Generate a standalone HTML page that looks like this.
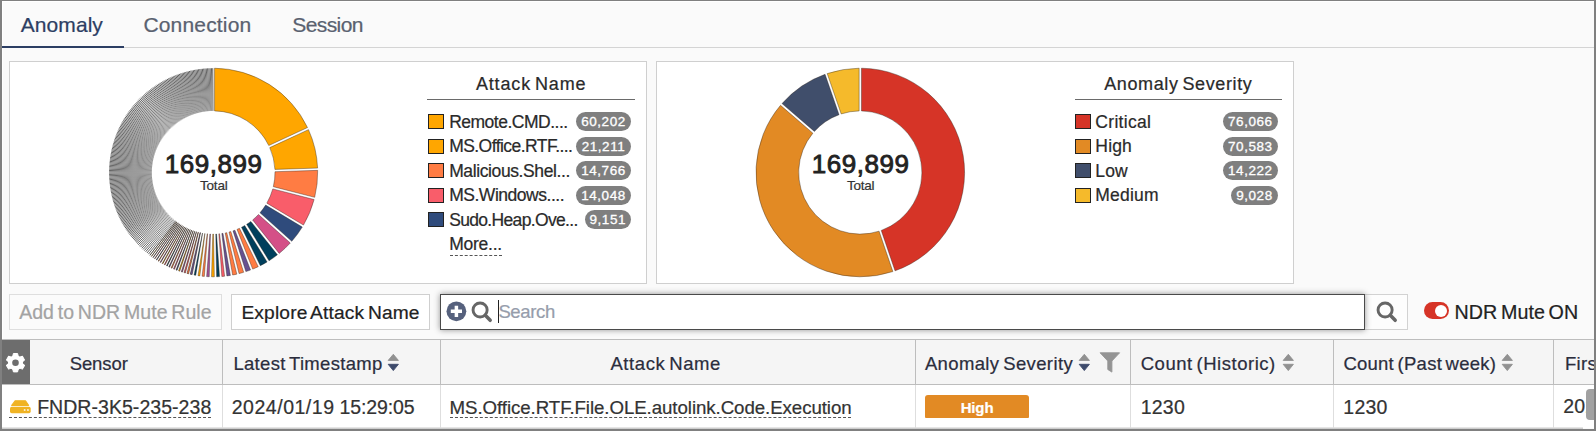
<!DOCTYPE html>
<html lang="en">
<head>
<meta charset="utf-8">
<title>Anomaly</title>
<style>
*{box-sizing:border-box}
html,body{margin:0;padding:0}
body{width:1596px;height:431px;overflow:hidden;background:#fafafa;position:relative;font-family:"Liberation Sans",sans-serif}
.abs,.tx{position:absolute}
.tx{white-space:pre;line-height:1;font-family:"Liberation Sans",sans-serif;-webkit-text-stroke:.22px}
#frame{position:absolute;left:0;top:0;width:1596px;height:431px;border-style:solid;border-color:#808080;border-width:1px 2px 2px 2px;pointer-events:none;z-index:50}
.panel{position:absolute;top:61px;height:223px;background:#fff;border:1px solid #cfcfcf}
.hr{position:absolute;height:1px;background:#6a6a6a}
.sw{position:absolute;width:16px;height:15px;border:1px solid #222}
.badge{position:absolute;height:19px;border-radius:10px;background:#7f7f7f;color:#fff;text-align:center;font-size:13.5px;line-height:19px;white-space:pre;-webkit-text-stroke:.3px}
.btn{position:absolute;top:294px;height:36px;border:1px solid #d6d6d6;background:#fff}
.vl{position:absolute;width:1px}
.sb{-webkit-text-stroke:.85px #222}
.dash{position:absolute;height:0;border-top:1px dashed #555}
</style>
</head>
<body>
<div class="abs" style="left:2px;top:1px;width:1592px;height:1px;background:#fff"></div>
<div class="abs" style="left:2px;top:1px;width:1px;height:428px;background:#fff"></div>
<nav>
<div class="abs" style="left:2px;top:47px;width:1592px;height:1px;background:#d4d4d4"></div>
<div class="abs" style="left:2px;top:46px;width:122px;height:2px;background:#2c3e63"></div>
<span class="tx " style="left:20.74px;top:14.00px;font-size:21px;font-weight:400;color:#2c3e63;letter-spacing:0.071px">Anomaly</span>
<span class="tx " style="left:143.44px;top:14.00px;font-size:21px;font-weight:400;color:#59616f;letter-spacing:0.165px">Connection</span>
<span class="tx " style="left:292.24px;top:14.00px;font-size:21px;font-weight:400;color:#59616f;letter-spacing:-0.588px">Session</span>
</nav>
<section>
<div class="panel" style="left:9px;width:638px"></div>
<svg class="abs" style="left:0;top:0" width="660" height="300" viewBox="0 0 660 300">
<path d="M214.55 68.21A104.30 104.30 0 0 1 307.51 127.55L268.78 145.53A61.60 61.60 0 0 0 214.55 110.91Z" fill="#ffa600" stroke="rgba(40,30,20,.55)" stroke-width=".7"/>
<path d="M308.48 129.63A104.30 104.30 0 0 1 317.61 168.07L274.92 169.42A61.60 61.60 0 0 0 269.75 147.61Z" fill="#ffa600" stroke="rgba(40,30,20,.55)" stroke-width=".7"/>
<path d="M317.68 170.37A104.30 104.30 0 0 1 314.70 197.32L273.34 186.70A61.60 61.60 0 0 0 274.99 171.71Z" fill="#ff7c43" stroke="rgba(40,30,20,.55)" stroke-width=".7"/>
<path d="M314.13 199.55A104.30 104.30 0 0 1 303.48 225.07L266.84 203.14A61.60 61.60 0 0 0 272.77 188.93Z" fill="#f95d6a" stroke="rgba(40,30,20,.55)" stroke-width=".7"/>
<path d="M302.30 227.05A104.30 104.30 0 0 1 291.79 241.29L260.01 212.78A61.60 61.60 0 0 0 265.66 205.12Z" fill="#2f4b7c" stroke="rgba(40,30,20,.55)" stroke-width=".7"/>
<path d="M290.26 243.01A104.30 104.30 0 0 1 279.22 253.41L252.64 219.98A61.60 61.60 0 0 0 258.47 214.49Z" fill="#d45087" stroke="rgba(40,30,20,.55)" stroke-width=".7"/>
<path d="M277.42 254.84A104.30 104.30 0 0 1 269.03 260.73L246.65 224.35A61.60 61.60 0 0 0 250.84 221.42Z" fill="#003f5c" stroke="rgba(40,30,20,.55)" stroke-width=".7"/>
<path d="M267.07 261.93A104.30 104.30 0 0 1 260.32 265.65L241.53 227.30A61.60 61.60 0 0 0 244.69 225.56Z" fill="#003f5c" stroke="rgba(40,30,20,.55)" stroke-width=".7"/>
<path d="M258.25 266.66A104.30 104.30 0 0 1 252.69 269.12L237.04 229.38A61.60 61.60 0 0 0 239.46 228.31Z" fill="#ff7c43" stroke="rgba(40,30,20,.55)" stroke-width=".7"/>
<path d="M250.55 269.96A104.30 104.30 0 0 1 245.86 271.62L233.02 230.89A61.60 61.60 0 0 0 234.90 230.23Z" fill="#665191" stroke="rgba(40,30,20,.55)" stroke-width=".7"/>
<path d="M243.66 272.31A104.30 104.30 0 0 1 239.04 273.60L229.00 232.09A61.60 61.60 0 0 0 230.82 231.58Z" fill="#ff7c43" stroke="rgba(40,30,20,.55)" stroke-width=".7"/>
<path d="M236.81 274.14A104.30 104.30 0 0 1 232.64 275.01L225.23 232.95A61.60 61.60 0 0 0 226.76 232.63Z" fill="#ff7c43" stroke="rgba(40,30,20,.55)" stroke-width=".7"/>
<path d="M230.38 275.41A104.30 104.30 0 0 1 226.89 275.92L221.83 233.52A61.60 61.60 0 0 0 222.96 233.35Z" fill="#665191" stroke="rgba(40,30,20,.55)" stroke-width=".7"/>
<path d="M224.61 276.20A104.30 104.30 0 0 1 221.82 276.46L218.84 233.86A61.60 61.60 0 0 0 219.55 233.79Z" fill="#f95d6a" stroke="rgba(40,30,20,.55)" stroke-width=".7"/>
<path d="M219.53 276.62A104.30 104.30 0 0 1 216.64 276.75L215.79 234.05A61.60 61.60 0 0 0 216.55 234.02Z" fill="#003f5c" stroke="rgba(40,30,20,.55)" stroke-width=".7"/>
<path d="M214.34 276.80A104.30 104.30 0 0 1 211.55 276.78L212.78 234.10A61.60 61.60 0 0 0 213.49 234.10Z" fill="#ffa600" stroke="rgba(40,30,20,.55)" stroke-width=".7"/>
<path d="M209.25 276.72A104.30 104.30 0 0 1 206.64 276.58L209.88 234.00A61.60 61.60 0 0 0 210.48 234.03Z" fill="#a05195" stroke="rgba(40,30,20,.55)" stroke-width=".7"/>
<path d="M204.34 276.41A104.30 104.30 0 0 1 202.10 276.19L207.20 233.79A61.60 61.60 0 0 0 207.58 233.82Z" fill="#ff7c43" stroke="rgba(40,30,20,.55)" stroke-width=".7"/>
<path d="M199.82 275.91A104.30 104.30 0 0 1 198.04 275.66L204.79 233.50A61.60 61.60 0 0 0 204.91 233.51Z" fill="#ffa600" stroke="rgba(40,30,20,.55)" stroke-width=".7"/>
<path d="M195.77 275.30A104.30 104.30 0 0 1 194.09 275.00L202.46 233.12A61.60 61.60 0 0 0 202.52 233.13Z" fill="#003f5c" stroke="rgba(40,30,20,.55)" stroke-width=".7"/>
<path d="M192.11 274.60A104.30 104.30 0 0 1 190.26 274.20L200.08 232.64A61.60 61.60 0 0 0 200.47 232.73Z" fill="#665191" stroke="rgba(40,30,20,.7)" stroke-width=".75"/>
<path d="M188.56 273.80A104.30 104.30 0 0 1 187.02 273.41L198.17 232.19A61.60 61.60 0 0 0 198.38 232.24Z" fill="#ff7c43" stroke="rgba(40,30,20,.7)" stroke-width=".75"/>
<path d="M185.33 272.95A104.30 104.30 0 0 1 184.09 272.60L196.43 231.72A61.60 61.60 0 0 0 196.48 231.73Z" fill="#f95d6a" stroke="rgba(40,30,20,.7)" stroke-width=".75"/>
<path d="M182.41 272.09A104.30 104.30 0 0 1 181.33 271.75L194.78 231.22A61.60 61.60 0 0 0 194.78 231.22Z" fill="#a05195" stroke="rgba(40,30,20,.7)" stroke-width=".75"/>
<path d="M179.67 271.20A104.30 104.30 0 0 1 178.67 270.85L193.18 230.69A61.60 61.60 0 0 0 193.18 230.69Z" fill="#ffa600" stroke="rgba(40,30,20,.7)" stroke-width=".75"/>
<path d="M177.02 270.25A104.30 104.30 0 0 1 176.08 269.90L191.64 230.13A61.60 61.60 0 0 0 191.64 230.13Z" fill="#2f4b7c" stroke="rgba(40,30,20,.7)" stroke-width=".75"/>
<path d="M174.45 269.26A104.30 104.30 0 0 1 173.58 268.90L190.14 229.54A61.60 61.60 0 0 0 190.14 229.54Z" fill="#d45087" stroke="rgba(40,30,20,.7)" stroke-width=".75"/>
<path d="M171.97 268.22A104.30 104.30 0 0 1 171.16 267.86L188.69 228.93A61.60 61.60 0 0 0 188.69 228.93Z" fill="#ff7c43" stroke="rgba(40,30,20,.7)" stroke-width=".75"/>
<path d="M169.57 267.14A104.30 104.30 0 0 1 168.82 266.79L187.29 228.29A61.60 61.60 0 0 0 187.29 228.29Z" fill="#665191" stroke="rgba(40,30,20,.7)" stroke-width=".75"/>
<path d="M167.24 266.03A104.30 104.30 0 0 1 166.56 265.69L185.94 227.64A61.60 61.60 0 0 0 185.94 227.64Z" fill="#003f5c" stroke="rgba(40,30,20,.7)" stroke-width=".75"/>
<path d="M165.00 264.89A104.30 104.30 0 0 1 164.37 264.56L184.63 226.97A61.60 61.60 0 0 0 184.63 226.97Z" fill="#f95d6a" stroke="rgba(40,30,20,.7)" stroke-width=".75"/>
<path d="M162.83 263.72A104.30 104.30 0 0 1 162.25 263.40L183.36 226.28A61.60 61.60 0 0 0 183.36 226.28Z" fill="#ffa600" stroke="rgba(40,30,20,.7)" stroke-width=".75"/>
<path d="M160.74 262.53A104.30 104.30 0 0 1 160.21 262.22L182.14 225.58A61.60 61.60 0 0 0 182.14 225.58Z" fill="#a05195" stroke="rgba(40,30,20,.7)" stroke-width=".75"/>
<path d="M158.71 261.31A104.30 104.30 0 0 1 158.24 261.02L180.96 224.87A61.60 61.60 0 0 0 180.96 224.87Z" fill="#ff7c43" stroke="rgba(40,30,20,.7)" stroke-width=".75"/>
<path d="M156.76 260.08A104.30 104.30 0 0 1 156.35 259.82L179.83 224.15A61.60 61.60 0 0 0 179.83 224.15Z" fill="#2f4b7c" stroke="rgba(40,30,20,.7)" stroke-width=".75"/>
<path d="M154.89 258.85A104.30 104.30 0 0 1 154.58 258.63L178.75 223.43A61.60 61.60 0 0 0 178.75 223.43Z" fill="#d45087" stroke="rgba(40,30,20,.7)" stroke-width=".75"/>
<path d="M153.15 257.64A104.30 104.30 0 0 1 152.93 257.48L177.75 222.74A61.60 61.60 0 0 0 177.75 222.74Z" fill="#665191" stroke="rgba(40,30,20,.7)" stroke-width=".75"/>
<path d="M151.51 256.45A104.30 104.30 0 0 1 151.37 256.35L176.81 222.05A61.60 61.60 0 0 0 176.81 222.05Z" fill="#ffa600" stroke="rgba(40,30,20,.7)" stroke-width=".75"/>
<path d="M149.98 255.30A104.30 104.30 0 0 1 149.87 255.22L175.91 221.38A61.60 61.60 0 0 0 175.91 221.38Z" fill="#003f5c" stroke="rgba(40,30,20,.7)" stroke-width=".75"/>
<path d="M148.45 254.11L175.04 220.70M147.03 252.95L174.20 220.02M145.64 251.79L173.38 219.33M144.30 250.63L172.59 218.64M143.00 249.46L171.82 217.95M141.75 248.29L171.08 217.26M140.53 247.12L170.36 216.57M139.35 245.95L169.66 215.88M138.21 244.78L168.99 215.19M137.10 243.61L168.34 214.50M136.03 242.45L167.71 213.81M135.00 241.29L167.10 213.13M134.00 240.13L166.51 212.44M133.03 238.98L165.93 211.76M132.10 237.83L165.38 211.09M131.20 236.69L164.85 210.41M130.32 235.56L164.33 209.74M129.48 234.43L163.84 209.08M128.67 233.32L163.36 208.42M127.88 232.21L162.89 207.76M127.12 231.10L162.44 207.11M126.39 230.01L162.01 206.46M125.67 228.91L161.59 205.82M124.97 227.80L161.17 205.16M124.28 226.69L160.77 204.50M123.61 225.56L160.37 203.84M122.95 224.43L159.98 203.17M122.30 223.29L159.60 202.50M121.67 222.14L159.22 201.82M121.05 220.98L158.86 201.13M120.45 219.82L158.50 200.45M119.86 218.65L158.16 199.76M119.29 217.47L157.82 199.06M118.73 216.28L157.49 198.36M118.19 215.09L157.17 197.65M117.66 213.89L156.86 196.95M117.15 212.68L156.56 196.23M116.65 211.47L156.26 195.52M116.17 210.25L155.98 194.80M115.71 209.03L155.70 194.07M115.25 207.80L155.43 193.35M114.82 206.56L155.18 192.62M114.40 205.32L154.93 191.88M113.99 204.07L154.69 191.15M113.60 202.82L154.46 190.41M113.23 201.56L154.24 189.67M112.87 200.30L154.03 188.92M112.53 199.04L153.83 188.17M112.21 197.77L153.64 187.42M111.90 196.50L153.45 186.67M111.60 195.22L153.28 185.92M111.33 193.94L153.12 185.16M111.07 192.65L152.96 184.40M110.82 191.36L152.82 183.64M110.59 190.07L152.68 182.88M110.38 188.78L152.56 182.12M110.18 187.49L152.44 181.35M110.00 186.19L152.33 180.58M109.84 184.89L152.24 179.82M109.69 183.58L152.15 179.05M109.56 182.28L152.07 178.28M109.44 180.97L152.00 177.51M109.35 179.67L151.95 176.73M109.26 178.36L151.90 175.96M109.20 177.05L151.86 175.19M109.15 175.74L151.83 174.41M109.12 174.43L151.81 173.64M109.10 173.12L151.80 172.87M109.10 171.81L151.80 172.09M109.12 170.50L151.81 171.32M109.15 169.19L151.83 170.54M109.20 167.88L151.86 169.77M109.27 166.57L151.90 169.00M109.35 165.26L151.95 168.23M109.45 163.95L152.01 167.45M109.57 162.65L152.08 166.68M109.70 161.35L152.15 165.91M109.85 160.04L152.24 165.14M110.01 158.74L152.34 164.37M110.19 157.44L152.45 163.61M110.39 156.15L152.56 162.84M110.60 154.86L152.69 162.08M110.83 153.57L152.82 161.32M111.08 152.28L152.97 160.56M111.34 150.99L153.12 159.80M111.62 149.71L153.29 159.04M111.91 148.44L153.46 158.29M112.22 147.16L153.65 157.54M112.55 145.89L153.84 156.79M112.89 144.63L154.04 156.04M113.25 143.37L154.25 155.29M113.63 142.11L154.47 154.55M114.01 140.86L154.70 153.81M114.42 139.61L154.94 153.08M114.84 138.37L155.19 152.34M115.28 137.14L155.45 151.61M115.73 135.91L155.72 150.89M116.20 134.68L155.99 150.16M116.68 133.46L156.28 149.44M117.18 132.25L156.57 148.73M117.69 131.04L156.87 148.02M118.22 129.85L157.19 147.31M118.76 128.65L157.51 146.60M119.32 127.47L157.84 145.90M119.90 126.29L158.18 145.21M120.48 125.12L158.52 144.52M121.09 123.95L158.88 143.83M121.70 122.80L159.24 143.15M122.34 121.65L159.62 142.47M122.98 120.51L160.00 141.79M123.64 119.38L160.39 141.13M124.32 118.25L160.79 140.46M125.01 117.14L161.19 139.80M125.71 116.03L161.61 139.15M126.43 114.93L162.03 138.50M127.16 113.85L162.46 137.86M127.90 112.77L162.90 137.22M128.66 111.70L163.35 136.59M129.43 110.64L163.81 135.96M130.21 109.59L164.27 135.34M131.01 108.55L164.74 134.73M131.82 107.52L165.22 134.12M132.64 106.50L165.70 133.52M133.48 105.49L166.20 132.92M134.33 104.49L166.70 132.33M135.19 103.50L167.21 131.75M136.06 102.52L167.72 131.17M136.95 101.55L168.25 130.60M137.84 100.60L168.78 130.04M138.75 99.66L169.31 129.48M139.67 98.72L169.86 128.93M140.61 97.80L170.41 128.38M141.55 96.89L170.97 127.85M142.51 96.00L171.53 127.32M143.47 95.11L172.10 126.79M144.45 94.24L172.68 126.28M145.44 93.38L173.26 125.77M146.44 92.53L173.85 125.27M147.45 91.70L174.45 124.78M148.47 90.87L175.05 124.29M149.50 90.07L175.66 123.81M150.54 89.27L176.28 123.34M151.59 88.49L176.90 122.88M152.65 87.72L177.52 122.43M153.72 86.96L178.16 121.98M154.80 86.22L178.79 121.54M155.89 85.49L179.44 121.11M156.99 84.77L180.08 120.69M158.10 84.07L180.74 120.27M159.21 83.38L181.40 119.87M160.34 82.71L182.06 119.47M161.47 82.05L182.73 119.08M162.61 81.40L183.40 118.70M163.76 80.77L184.08 118.32M164.92 80.15L184.77 117.96M166.08 79.55L185.45 117.60M167.25 78.96L186.14 117.26M168.43 78.39L186.84 116.92M169.62 77.83L187.54 116.59M170.81 77.29L188.25 116.27M172.01 76.76L188.95 115.96M173.22 76.25L189.67 115.66M174.43 75.75L190.38 115.36M175.65 75.27L191.10 115.08M176.87 74.81L191.83 114.80M178.10 74.35L192.55 114.53M179.34 73.92L193.28 114.28M180.58 73.50L194.02 114.03M181.83 73.09L194.75 113.79M183.08 72.70L195.49 113.56M184.34 72.33L196.23 113.34M185.60 71.97L196.98 113.13M186.86 71.63L197.73 112.93M188.13 71.31L198.48 112.74M189.40 71.00L199.23 112.55M190.68 70.70L199.98 112.38M191.96 70.43L200.74 112.22M193.25 70.17L201.50 112.06M194.54 69.92L202.26 111.92M195.83 69.69L203.02 111.78M197.12 69.48L203.78 111.66M198.41 69.28L204.55 111.54M199.71 69.10L205.32 111.43M201.01 68.94L206.08 111.34M202.32 68.79L206.85 111.25M203.62 68.66L207.62 111.17M204.93 68.54L208.39 111.10M206.23 68.45L209.17 111.05M207.54 68.36L209.94 111.00M208.85 68.30L210.71 110.96M210.16 68.25L211.49 110.93M211.47 68.22L212.26 110.91M212.76 68.20L213.02 110.90" fill="none" stroke="#222" stroke-width="0.73"/>
<defs><radialGradient id="fade" gradientUnits="userSpaceOnUse" cx="213.4" cy="172.5" r="104.3"><stop offset="0.591" stop-color="#fff" stop-opacity="0.409"/><stop offset="1" stop-color="#fff" stop-opacity="0"/></radialGradient></defs>
<path d="M148.66 254.91A104.8 104.8 0 0 1 213.38 67.70L213.39 111.40A61.1 61.1 0 0 0 175.65 220.55Z" fill="url(#fade)"/>
</svg>
<span class="tx sb" style="left:164.84px;top:151.00px;font-size:26px;font-weight:400;color:#222;letter-spacing:0.545px">169,899</span>
<span class="tx " style="left:199.99px;top:179.00px;font-size:13.5px;font-weight:400;color:#333;letter-spacing:-0.196px">Total</span>
<span class="tx " style="left:475.92px;top:75.00px;font-size:18px;font-weight:400;color:#2a2a2a;letter-spacing:0.841px;word-spacing:-1.8px">Attack Name</span>
<div class="hr" style="left:427px;top:99px;width:208px"></div>
<div class="sw" style="left:428px;top:114.4px;background:#ffa600"></div>
<span class="tx " style="left:449.15px;top:114.00px;font-size:17.5px;font-weight:400;color:#2a2a2a;letter-spacing:-0.493px">Remote.CMD....</span>
<div class="badge" style="left:576.0px;top:112.0px;width:55.0px;letter-spacing:.55px">60,202</div>
<div class="sw" style="left:428px;top:138.9px;background:#ffa600"></div>
<span class="tx " style="left:449.15px;top:138.00px;font-size:17.5px;font-weight:400;color:#2a2a2a;letter-spacing:-0.549px">MS.Office.RTF....</span>
<div class="badge" style="left:576.0px;top:136.5px;width:55.0px;letter-spacing:.55px">21,211</div>
<div class="sw" style="left:428px;top:163.4px;background:#ff7c43"></div>
<span class="tx " style="left:449.15px;top:163.00px;font-size:17.5px;font-weight:400;color:#2a2a2a;letter-spacing:-0.387px">Malicious.Shel...</span>
<div class="badge" style="left:576.0px;top:161.0px;width:55.0px;letter-spacing:.55px">14,766</div>
<div class="sw" style="left:428px;top:187.9px;background:#f95d6a"></div>
<span class="tx " style="left:449.15px;top:187.00px;font-size:17.5px;font-weight:400;color:#2a2a2a;letter-spacing:-0.472px">MS.Windows....</span>
<div class="badge" style="left:576.0px;top:185.5px;width:55.0px;letter-spacing:.55px">14,048</div>
<div class="sw" style="left:428px;top:212.4px;background:#2f4b7c"></div>
<span class="tx " style="left:449.15px;top:212.00px;font-size:17.5px;font-weight:400;color:#2a2a2a;letter-spacing:-0.661px">Sudo.Heap.Ove...</span>
<div class="badge" style="left:584.6px;top:210.0px;width:46.4px;letter-spacing:.55px">9,151</div>
<span class="tx " style="left:449.15px;top:236.00px;font-size:17.5px;font-weight:400;color:#2a2a2a;letter-spacing:-0.246px">More...</span>
<div class="dash" style="left:450px;top:255px;width:52px"></div>
</section>
<section>
<div class="panel" style="left:656px;width:638px"></div>
<svg class="abs" style="left:0;top:0" width="1300" height="300" viewBox="0 0 1300 300">
<path d="M861.45 68.21A104.30 104.30 0 0 1 895.04 270.84L881.26 230.42A61.60 61.60 0 0 0 861.45 110.91Z" fill="#d63427" stroke="rgba(40,30,20,.55)" stroke-width=".7"/>
<path d="M892.86 271.59A104.30 104.30 0 0 1 780.52 105.31L812.88 133.18A61.60 61.60 0 0 0 879.08 231.17Z" fill="#e28a24" stroke="rgba(40,30,20,.55)" stroke-width=".7"/>
<path d="M782.02 103.57A104.30 104.30 0 0 1 825.04 74.34L839.03 114.69A61.60 61.60 0 0 0 814.38 131.44Z" fill="#404e6b" stroke="rgba(40,30,20,.55)" stroke-width=".7"/>
<path d="M827.21 73.59A104.30 104.30 0 0 1 859.15 68.21L859.15 110.91A61.60 61.60 0 0 0 841.20 113.93Z" fill="#f5ba2b" stroke="rgba(40,30,20,.55)" stroke-width=".7"/>
</svg>
<span class="tx sb" style="left:811.74px;top:151.00px;font-size:26px;font-weight:400;color:#222;letter-spacing:0.545px">169,899</span>
<span class="tx " style="left:846.89px;top:179.00px;font-size:13.5px;font-weight:400;color:#333;letter-spacing:-0.196px">Total</span>
<span class="tx " style="left:1104.22px;top:75.00px;font-size:18px;font-weight:400;color:#2a2a2a;letter-spacing:0.621px;word-spacing:-1.8px">Anomaly Severity</span>
<div class="hr" style="left:1075px;top:99px;width:207px"></div>
<div class="sw" style="left:1075px;top:114.4px;background:#d63427"></div>
<span class="tx " style="left:1095.35px;top:114.00px;font-size:17.5px;font-weight:400;color:#2a2a2a;letter-spacing:0.308px">Critical</span>
<div class="badge" style="left:1222.7px;top:112.0px;width:55.3px;letter-spacing:.55px">76,066</div>
<div class="sw" style="left:1075px;top:138.9px;background:#e28a24"></div>
<span class="tx " style="left:1095.35px;top:138.00px;font-size:17.5px;font-weight:400;color:#2a2a2a;letter-spacing:0.162px">High</span>
<div class="badge" style="left:1222.7px;top:136.5px;width:55.3px;letter-spacing:.55px">70,583</div>
<div class="sw" style="left:1075px;top:163.4px;background:#404e6b"></div>
<span class="tx " style="left:1095.35px;top:163.00px;font-size:17.5px;font-weight:400;color:#2a2a2a;letter-spacing:0.147px">Low</span>
<div class="badge" style="left:1222.7px;top:161.0px;width:55.3px;letter-spacing:.55px">14,222</div>
<div class="sw" style="left:1075px;top:187.9px;background:#f5ba2b"></div>
<span class="tx " style="left:1095.35px;top:187.00px;font-size:17.5px;font-weight:400;color:#2a2a2a;letter-spacing:0.183px">Medium</span>
<div class="badge" style="left:1230.9px;top:185.5px;width:47.1px;letter-spacing:.55px">9,028</div>
</section>
<div role="toolbar">
<div class="btn" style="left:9px;width:213px;background:#fbfbfb;border-color:#dedede"></div>
<span class="tx " style="left:19.13px;top:303.00px;font-size:19.5px;font-weight:400;color:#a3a3a3;letter-spacing:0.070px;word-spacing:-1.8px">Add to NDR Mute Rule</span>
<div class="btn" style="left:231px;width:199px;border-color:#cfcfcf"></div>
<span class="tx " style="left:241.45px;top:303.00px;font-size:19.2px;font-weight:400;color:#222;letter-spacing:0.139px;word-spacing:-1.8px">Explore Attack Name</span>
<div class="btn" style="left:1364px;width:44px;border-color:#d2d2d2;background:#fdfdfd"></div>
<div class="btn" style="left:440px;width:925px;border:1.5px solid #4a4a4a;box-shadow:0 0 6px rgba(0,0,0,.42)"></div>
<svg class="abs" style="left:446px;top:301px" width="21" height="21" viewBox="0 0 21 21"><circle cx="10.4" cy="10.3" r="9.9" fill="#56617d"/><path d="M10.4 4.7V15.9M4.8 10.3H16" stroke="#fff" stroke-width="3.5" stroke-linecap="butt"/></svg>
<svg class="abs" style="left:470.9px;top:300.5px" width="22" height="22" viewBox="0 0 22 22"><circle cx="9.1" cy="9" r="7.05" fill="none" stroke="#666" stroke-width="2.9"/><path d="M14.3 14.2L19.2 19.3" stroke="#666" stroke-width="3.5" stroke-linecap="round"/></svg>
<div class="abs" style="left:497.8px;top:300.2px;width:1.3px;height:22.6px;background:#222"></div>
<span class="tx " style="left:498.39px;top:303.00px;font-size:18.5px;font-weight:400;color:#969dab;letter-spacing:-0.346px">Search</span>
<svg class="abs" style="left:1376.1px;top:300.7px" width="22" height="22" viewBox="0 0 22 22"><circle cx="9.1" cy="9" r="7.05" fill="none" stroke="#666" stroke-width="2.9"/><path d="M14.3 14.2L19.2 19.3" stroke="#666" stroke-width="3.5" stroke-linecap="round"/></svg>
<div class="abs" style="left:1424px;top:302.3px;width:25.4px;height:17px;border-radius:9px;background:#d63427"></div>
<div class="abs" style="left:1434.9px;top:304.8px;width:12px;height:12px;border-radius:50%;background:#fff"></div>
<span class="tx " style="left:1454.62px;top:303.00px;font-size:19.7px;font-weight:400;color:#222;letter-spacing:0.024px;word-spacing:-1.8px">NDR Mute ON</span>
</div>
<div role="table">
<div class="abs" style="left:2px;top:339px;width:1592px;height:46px;background:#f5f5f5;border-top:1px solid #bdbdbd;border-bottom:1px solid #bdbdbd"></div>
<div class="abs" style="left:2px;top:385px;width:1592px;height:43px;background:#fff"></div>
<div class="abs" style="left:2px;top:427px;width:1581px;height:2px;background:linear-gradient(#f1f1f1,#c2c2c2)"></div>
<div class="abs" style="left:2px;top:340px;width:28px;height:44px;background:#6d6d6d"></div>
<div class="vl" style="left:222px;top:340px;height:44px;background:#bdbdbd"></div>
<div class="vl" style="left:222px;top:385px;height:43px;background:#dedede"></div>
<div class="vl" style="left:440px;top:340px;height:44px;background:#bdbdbd"></div>
<div class="vl" style="left:440px;top:385px;height:43px;background:#dedede"></div>
<div class="vl" style="left:915px;top:340px;height:44px;background:#bdbdbd"></div>
<div class="vl" style="left:915px;top:385px;height:43px;background:#dedede"></div>
<div class="vl" style="left:1130px;top:340px;height:44px;background:#bdbdbd"></div>
<div class="vl" style="left:1130px;top:385px;height:43px;background:#dedede"></div>
<div class="vl" style="left:1333px;top:340px;height:44px;background:#bdbdbd"></div>
<div class="vl" style="left:1333px;top:385px;height:43px;background:#dedede"></div>
<div class="vl" style="left:1553px;top:340px;height:44px;background:#bdbdbd"></div>
<div class="vl" style="left:1553px;top:385px;height:43px;background:#dedede"></div>
<svg class="abs" style="left:5px;top:352px" width="21" height="21" viewBox="-10.5 -10.7 21 21"><g fill="#fff"><path d="M-2.8 -6L-2.1 -9.2H2.1L2.8 -6Z" stroke="#fff" stroke-width="1" stroke-linejoin="round" transform="rotate(0)"/><path d="M-2.8 -6L-2.1 -9.2H2.1L2.8 -6Z" stroke="#fff" stroke-width="1" stroke-linejoin="round" transform="rotate(60)"/><path d="M-2.8 -6L-2.1 -9.2H2.1L2.8 -6Z" stroke="#fff" stroke-width="1" stroke-linejoin="round" transform="rotate(120)"/><path d="M-2.8 -6L-2.1 -9.2H2.1L2.8 -6Z" stroke="#fff" stroke-width="1" stroke-linejoin="round" transform="rotate(180)"/><path d="M-2.8 -6L-2.1 -9.2H2.1L2.8 -6Z" stroke="#fff" stroke-width="1" stroke-linejoin="round" transform="rotate(240)"/><path d="M-2.8 -6L-2.1 -9.2H2.1L2.8 -6Z" stroke="#fff" stroke-width="1" stroke-linejoin="round" transform="rotate(300)"/><circle r="7.5"/></g><circle r="3.3" fill="#6d6d6d"/></svg>
<span class="tx " style="left:69.69px;top:355.00px;font-size:18.5px;font-weight:400;color:#2b2d3d;letter-spacing:-0.096px">Sensor</span>
<span class="tx " style="left:233.39px;top:355.00px;font-size:18.5px;font-weight:400;color:#2b2d3d;letter-spacing:0.315px;word-spacing:-1.8px">Latest Timestamp</span>
<svg class="abs" style="left:387.3px;top:354px" width="13" height="18" viewBox="0 0 13 18"><path d="M6.3 .3L11.4 6.4H1.2Z" fill="#919191" stroke="#919191" stroke-width=".9" stroke-linejoin="round"/><path d="M1.2 10.3H11.4L6.3 16.6Z" fill="#3d4a6b" stroke="#3d4a6b" stroke-width=".9" stroke-linejoin="round"/></svg>
<span class="tx " style="left:610.39px;top:355.00px;font-size:18.5px;font-weight:400;color:#2b2d3d;letter-spacing:0.586px;word-spacing:-1.8px">Attack Name</span>
<span class="tx " style="left:924.89px;top:355.00px;font-size:18.5px;font-weight:400;color:#2b2d3d;letter-spacing:0.375px;word-spacing:-1.8px">Anomaly Severity</span>
<svg class="abs" style="left:1078.2px;top:354px" width="13" height="18" viewBox="0 0 13 18"><path d="M6.3 .3L11.4 6.4H1.2Z" fill="#919191" stroke="#919191" stroke-width=".9" stroke-linejoin="round"/><path d="M1.2 10.3H11.4L6.3 16.6Z" fill="#3d4a6b" stroke="#3d4a6b" stroke-width=".9" stroke-linejoin="round"/></svg>
<svg class="abs" style="left:1098.5px;top:352px" width="22" height="21" viewBox="0 0 22 21"><path d="M1.1 .8H20.6L12.9 9V20.1L8.8 17.5V9Z" fill="#949494" stroke="#949494" stroke-width=".9" stroke-linejoin="round"/></svg>
<span class="tx " style="left:1140.69px;top:355.00px;font-size:18.5px;font-weight:400;color:#2b2d3d;letter-spacing:0.522px;word-spacing:-1.8px">Count (Historic)</span>
<svg class="abs" style="left:1281.5px;top:354px" width="13" height="18" viewBox="0 0 13 18"><path d="M6.3 .3L11.4 6.4H1.2Z" fill="#919191" stroke="#919191" stroke-width=".9" stroke-linejoin="round"/><path d="M1.2 10.3H11.4L6.3 16.6Z" fill="#919191" stroke="#919191" stroke-width=".9" stroke-linejoin="round"/></svg>
<span class="tx " style="left:1343.39px;top:355.00px;font-size:18.5px;font-weight:400;color:#2b2d3d;letter-spacing:0.251px;word-spacing:-1.8px">Count (Past week)</span>
<svg class="abs" style="left:1501.3px;top:354px" width="13" height="18" viewBox="0 0 13 18"><path d="M6.3 .3L11.4 6.4H1.2Z" fill="#919191" stroke="#919191" stroke-width=".9" stroke-linejoin="round"/><path d="M1.2 10.3H11.4L6.3 16.6Z" fill="#919191" stroke="#919191" stroke-width=".9" stroke-linejoin="round"/></svg>
<div class="abs" style="left:1560px;top:350px;width:33.5px;height:30px;overflow:hidden"><span class="tx" style="left:5px;top:4.5px;font-size:18.5px;color:#2b2d3d;letter-spacing:.3px">First Seen</span></div>
<svg class="abs" style="left:9.3px;top:399.5px" width="22" height="14" viewBox="0 0 22 14"><path d="M6.3 .7H16.5L19.6 5.4H2.7Z" fill="#f0b323" stroke="#f0b323" stroke-width="1.1" stroke-linejoin="round"/><rect x="1" y="6.8" width="20.7" height="6.5" rx="1.7" fill="#f0b323"/><rect x="14.8" y="9.2" width="1.7" height="1.6" rx=".4" fill="#fff"/><rect x="18.1" y="9.2" width="1.7" height="1.6" rx=".4" fill="#fff"/></svg>
<span class="tx " style="left:37.13px;top:398.00px;font-size:19.5px;font-weight:400;color:#333;letter-spacing:0.046px">FNDR-3K5-235-238</span>
<div class="dash" style="left:9px;top:417px;width:202px"></div>
<span class="tx " style="left:231.73px;top:398.00px;font-size:19.5px;font-weight:400;color:#333;letter-spacing:0.524px">2024/01/19 </span>
<span class="tx " style="left:339.53px;top:398.00px;font-size:19.5px;font-weight:400;color:#333;letter-spacing:-0.107px">15:29:05</span>
<span class="tx " style="left:449.58px;top:399.00px;font-size:18.7px;font-weight:400;color:#333;letter-spacing:-0.075px">MS.Office.RTF.File.OLE.autolink.Code.Execution</span>
<div class="dash" style="left:450px;top:417px;width:401px"></div>
<div class="abs" style="left:925px;top:395px;width:104px;height:23px;background:#e28a24;border-radius:3px 3px 1px 1px"></div>
<span class="tx " style="left:960.70px;top:400.00px;font-size:15px;font-weight:700;color:#fff;letter-spacing:-0.157px">High</span>
<span class="tx " style="left:1140.63px;top:398.00px;font-size:19.5px;font-weight:400;color:#333;letter-spacing:0.265px">1230</span>
<span class="tx " style="left:1343.33px;top:398.00px;font-size:19.5px;font-weight:400;color:#333;letter-spacing:0.215px">1230</span>
<div class="abs" style="left:1560px;top:394px;width:26px;height:30px;overflow:hidden"><span class="tx" style="left:3.2px;top:3.25px;font-size:19.5px;color:#333;letter-spacing:.2px">2024/01/12 09:41:17</span></div>
<div class="abs" style="left:1586px;top:388.5px;width:8px;height:31px;border-radius:4px 0 0 4px;background:#a1a1a1"></div>
</div>
<div id="frame"></div>
</body>
</html>
